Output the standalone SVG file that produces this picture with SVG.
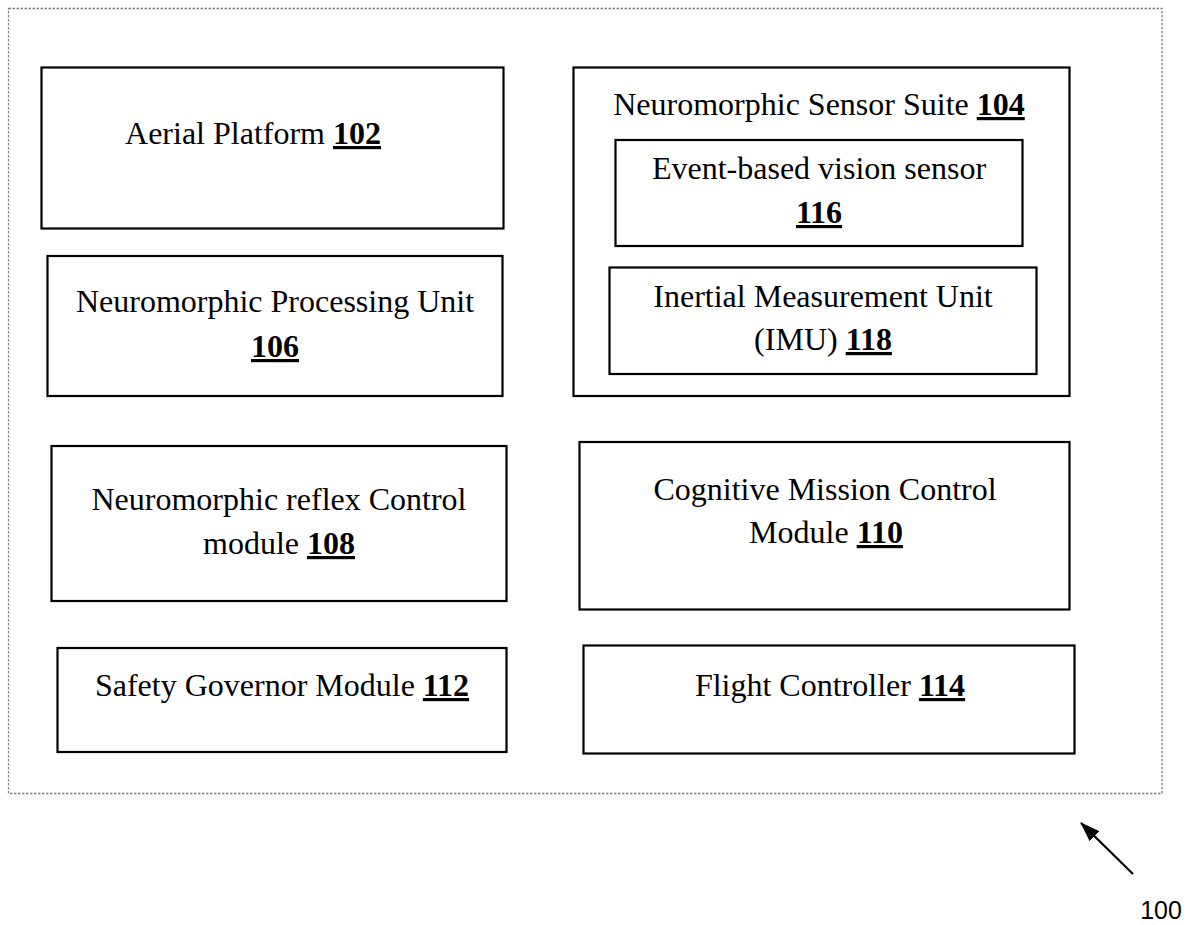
<svg xmlns="http://www.w3.org/2000/svg" width="1189" height="925" viewBox="0 0 1189 925">
<defs>
<style>
.box{fill:#fff;stroke:#000;stroke-width:2.2}
.t{font-family:"Liberation Serif","Times New Roman",serif;font-size:32px;fill:#000;text-anchor:middle}
.n{font-weight:bold;text-decoration:underline}
</style>
<marker id="ah" viewBox="0 0 20 14" refX="19" refY="7" markerWidth="20" markerHeight="14" orient="auto" markerUnits="userSpaceOnUse">
<path d="M0,0 L20,7 L0,14 z" fill="#000"/>
</marker>
</defs>
<rect width="1189" height="925" fill="#fff"/>
<rect id="frame" x="8.5" y="8.5" width="1153.5" height="785" fill="none" stroke="#808080" stroke-width="1.3" stroke-dasharray="2.5,1.5"/>
<g id="n102"><rect class="box" x="41.5" y="67.5" width="462" height="161"/><text class="t" x="253" y="144">Aerial Platform <tspan class="n">102</tspan></text></g>
<g id="n106"><rect class="box" x="47.5" y="256" width="455" height="140"/><text class="t" x="275" y="312">Neuromorphic Processing Unit</text><text class="t" x="275" y="357"><tspan class="n">106</tspan></text></g>
<g id="n104"><rect class="box" x="573.5" y="67.5" width="496" height="328.5"/><text class="t" x="819" y="115">Neuromorphic Sensor Suite <tspan class="n">104</tspan></text>
<g id="n116"><rect class="box" x="615.5" y="140" width="407" height="106"/><text class="t" x="819" y="179">Event-based vision sensor</text><text class="t" x="819" y="223"><tspan class="n">116</tspan></text></g>
<g id="n118"><rect class="box" x="609.5" y="267.5" width="427" height="106.5"/><text class="t" x="823" y="307">Inertial Measurement Unit</text><text class="t" x="823" y="350">(IMU) <tspan class="n">118</tspan></text></g>
</g>
<g id="n108"><rect class="box" x="51.5" y="446" width="455" height="155"/><text class="t" x="279" y="510">Neuromorphic reflex Control</text><text class="t" x="279" y="554">module <tspan class="n">108</tspan></text></g>
<g id="n110"><rect class="box" x="579.5" y="442" width="490" height="167.5"/><text class="t" x="825" y="500">Cognitive Mission Control</text><text class="t" x="826" y="543">Module <tspan class="n">110</tspan></text></g>
<g id="n112"><rect class="box" x="57.5" y="648" width="449" height="104"/><text class="t" x="282" y="696">Safety Governor Module <tspan class="n">112</tspan></text></g>
<g id="n114"><rect class="box" x="583.5" y="645.5" width="491" height="108"/><text class="t" x="830" y="696">Flight Controller <tspan class="n">114</tspan></text></g>
<g id="connectors"><line x1="1133" y1="874" x2="1081" y2="823" stroke="#000" stroke-width="2.2" marker-end="url(#ah)"/></g>
<text id="ref100" x="1161" y="919" font-family="Liberation Sans, Arial, sans-serif" font-size="25" text-anchor="middle" fill="#000">100</text>
</svg>
